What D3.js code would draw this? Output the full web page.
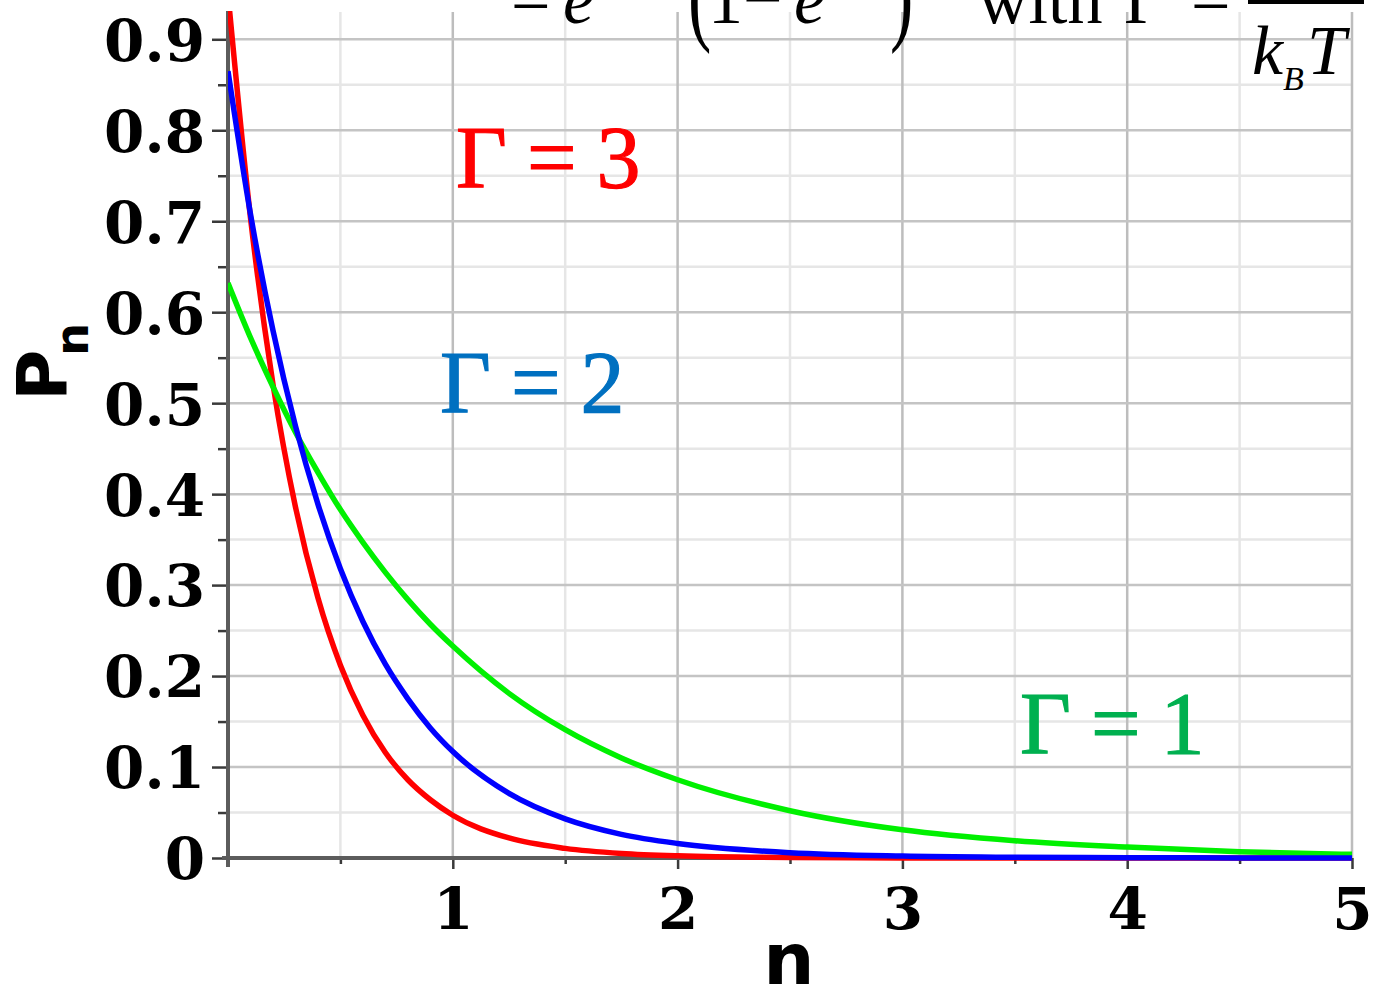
<!DOCTYPE html>
<html>
<head>
<meta charset="utf-8">
<script src="https://cdn.jsdelivr.net/npm/d3@7"></script>
<style>
  html, body { margin: 0; padding: 0; background: #ffffff; }
  svg { display: block; }
</style>
</head>
<body>
<script>
// Sample points of the occupation probability P_n versus n
const nValues   = [0, 0.1, 0.2, 0.3, 0.4, 0.5, 0.6, 0.7, 0.8, 0.9, 1.0, 1.25, 1.5, 1.75, 2.0, 2.5, 3.0, 3.5, 4.0, 4.5, 5.0];
const gamma3    = [0.950, 0.704, 0.521, 0.386, 0.286, 0.212, 0.157, 0.116, 0.086, 0.064, 0.047, 0.022, 0.0106, 0.0050, 0.0024, 0.0005, 0.0001, 0.0000, 0.0000, 0.0000, 0.0000];
const gamma2    = [0.865, 0.708, 0.580, 0.475, 0.389, 0.318, 0.260, 0.213, 0.175, 0.143, 0.117, 0.071, 0.043, 0.026, 0.016, 0.0058, 0.0021, 0.0008, 0.0003, 0.0001, 0.0000];
const gamma1    = [0.632, 0.572, 0.518, 0.468, 0.424, 0.383, 0.347, 0.314, 0.284, 0.257, 0.233, 0.181, 0.141, 0.110, 0.086, 0.052, 0.031, 0.019, 0.012, 0.007, 0.004];

const seriesNames  = ["Γ = 3", "Γ = 1", "Γ = 2"];
const seriesLines  = ["#ff0000", "#00f000", "#0000ff"];
const labelColors  = ["#ff0000", "#00b050", "#0070c0"];

// Axis ticks
const xTickValues = [1, 2, 3, 4, 5];
const xTickLabels = ["1", "2", "3", "4", "5"];
const xMinorTicks = [0.5, 1.5, 2.5, 3.5, 4.5];
const yTickValues = [0, 0.1, 0.2, 0.3, 0.4, 0.5, 0.6, 0.7, 0.8, 0.9];
const yTickLabels = ["0", "0.1", "0.2", "0.3", "0.4", "0.5", "0.6", "0.7", "0.8", "0.9"];
const yMinorTicks = [0.05, 0.15, 0.25, 0.35, 0.45, 0.55, 0.65, 0.75, 0.85];

const W = 1375, H = 993;
const plotLeft = 228, plotRight = 1352, plotTop = 12, plotBottom = 858;

const svg = d3.select("body").append("svg")
  .attr("width", W).attr("height", H)
  .attr("viewBox", `0 0 ${W} ${H}`);

const x = d3.scaleLinear().domain([0, 5]).range([plotLeft, plotRight]);
const y = d3.scaleLinear().domain([0, 0.93]).range([plotBottom, plotTop]);

// Grid: minor lines first, then the major ones
const grid = svg.append("g");
grid.selectAll(".vminor").data(xMinorTicks).join("line")
  .attr("x1", d => x(d)).attr("x2", d => x(d))
  .attr("y1", y(0.93)).attr("y2", y(0))
  .attr("stroke", "#e6e6e6").attr("stroke-width", 2.5);
grid.selectAll(".hminor").data(yMinorTicks).join("line")
  .attr("x1", x(0)).attr("x2", x(5))
  .attr("y1", d => y(d)).attr("y2", d => y(d))
  .attr("stroke", "#e6e6e6").attr("stroke-width", 2.5);
grid.selectAll(".vmajor").data(xTickValues).join("line")
  .attr("x1", d => x(d)).attr("x2", d => x(d))
  .attr("y1", y(0.93)).attr("y2", y(0))
  .attr("stroke", "#bdbdbd").attr("stroke-width", 2.5);
grid.selectAll(".hmajor").data(yTickValues.slice(1)).join("line")
  .attr("x1", x(0)).attr("x2", x(5))
  .attr("y1", d => y(d)).attr("y2", d => y(d))
  .attr("stroke", "#c4c4c4").attr("stroke-width", 2.5);

// Axes
const axisColor = "#5c5c5c", tickColor = "#3a3a3a";
const yAxis = svg.append("g").attr("transform", `translate(${plotLeft},0)`)
  .call(d3.axisLeft(y).tickValues(yTickValues).tickSize(16).tickFormat((d, i) => yTickLabels[i]));
const yAxisMinor = svg.append("g").attr("transform", `translate(${plotLeft},0)`)
  .call(d3.axisLeft(y).tickValues(yMinorTicks).tickSize(10).tickFormat(""));
const xAxis = svg.append("g").attr("transform", `translate(0,${plotBottom})`)
  .call(d3.axisBottom(x).tickValues(xTickValues).tickSize(11).tickFormat((d, i) => xTickLabels[i]));
const xAxisMinor = svg.append("g").attr("transform", `translate(0,${plotBottom})`)
  .call(d3.axisBottom(x).tickValues(xMinorTicks).tickSize(6).tickFormat(""));

[yAxis, yAxisMinor, xAxis, xAxisMinor].forEach(g => {
  g.select(".domain").remove();
  g.selectAll(".tick line").attr("stroke", tickColor).attr("stroke-width", 2.5);
  g.selectAll(".tick text")
    .attr("font-family", "'DejaVu Serif', serif")
    .attr("font-weight", "bold")
    .attr("font-size", 58)
    .attr("fill", "#000");
});
yAxis.selectAll(".tick text").attr("x", -23).attr("dy", "0.36em");
xAxis.selectAll(".tick text").attr("y", 30).attr("dy", "0.71em");

// Axis lines
svg.append("line")
  .attr("x1", x(0)).attr("x2", x(0)).attr("y1", y(0.93) - 1).attr("y2", y(0) + 9)
  .attr("stroke", axisColor).attr("stroke-width", 4);
svg.append("line")
  .attr("x1", x(0) - 6).attr("x2", x(5)).attr("y1", y(0)).attr("y2", y(0))
  .attr("stroke", axisColor).attr("stroke-width", 4);

// Curves, clipped to the plotting area
svg.append("clipPath").attr("id", "plot-clip")
  .append("rect").attr("x", plotLeft).attr("y", y(0.93) - 1)
  .attr("width", plotRight - plotLeft + 4).attr("height", plotBottom - plotTop + 4);

const line = d3.line()
  .x(d => x(d[0])).y(d => y(d[1]))
  .curve(d3.curveMonotoneX);

const seriesData = [gamma3, gamma1, gamma2];
const curves = svg.append("g").attr("clip-path", "url(#plot-clip)");
seriesData.forEach((vals, i) => {
  curves.append("path")
    .datum(nValues.map((n, k) => [n, vals[k]]))
    .attr("d", line)
    .attr("fill", "none")
    .attr("stroke", seriesLines[i])
    .attr("stroke-width", 5.5)
    .attr("stroke-linejoin", "round")
    .attr("stroke-linecap", "butt");
});

// Curve labels
const labelPos = [[456, 187], [1020, 753], [440, 412]];
seriesNames.forEach((name, i) => {
  svg.append("text")
    .attr("x", labelPos[i][0]).attr("y", labelPos[i][1])
    .attr("font-family", "'Liberation Serif', 'Times New Roman', serif")
    .attr("font-size", 88)
    .attr("word-spacing", -2)
    .attr("fill", labelColors[i])
    .attr("stroke", labelColors[i])
    .attr("stroke-width", 1.2)
    .attr("xml:space", "preserve")
    .text(name);
});

// Axis titles
svg.append("text")
  .attr("x", x(2.5) - 1).attr("y", 984)
  .attr("text-anchor", "middle")
  .attr("font-family", "'DejaVu Sans', sans-serif")
  .attr("font-weight", "bold")
  .attr("font-size", 72)
  .text("n");

const yTitle = svg.append("text")
  .attr("transform", "translate(67,401) rotate(-90)")
  .attr("font-family", "'DejaVu Sans', sans-serif")
  .attr("font-weight", "bold")
  .attr("font-size", 70);
yTitle.append("tspan").text("P");
yTitle.append("tspan").attr("dx", -6).attr("dy", 21).attr("font-size", 46).text("n");

// Formula along the top edge
const serif = "'Liberation Serif', 'Times New Roman', serif";
const formula = svg.append("g").attr("fill", "#000")
  .attr("font-family", serif).attr("font-size", 70);
const base = 23;
formula.append("text").attr("x", 511).attr("y", base).text("=");
formula.append("text").attr("x", 563).attr("y", base).attr("font-style", "italic").text("e");
formula.append("text").attr("transform", `translate(688,30) scale(1,1.6)`).text("(");
formula.append("text").attr("x", 708).attr("y", base).text("1");
formula.append("text").attr("x", 743).attr("y", base).text("−");
formula.append("text").attr("x", 794).attr("y", base).attr("font-style", "italic").text("e");
formula.append("text").attr("transform", `translate(890,30) scale(1,1.6)`).text(")");
formula.append("text").attr("x", 978).attr("y", base).text("with");
formula.append("text").attr("x", 1124).attr("y", base).text("Γ");
formula.append("text").attr("x", 1191).attr("y", base).text("=");
formula.append("line")
  .attr("x1", 1248).attr("x2", 1364).attr("y1", 2).attr("y2", 2)
  .attr("stroke", "#000").attr("stroke-width", 4);
formula.append("text").attr("x", 1252).attr("y", 74).attr("font-style", "italic").text("k");
formula.append("text").attr("x", 1283).attr("y", 90).attr("font-style", "italic")
  .attr("font-size", 34).text("B");
formula.append("text").attr("x", 1307).attr("y", 74).attr("font-style", "italic").text("T");
</script>
</body>
</html>
